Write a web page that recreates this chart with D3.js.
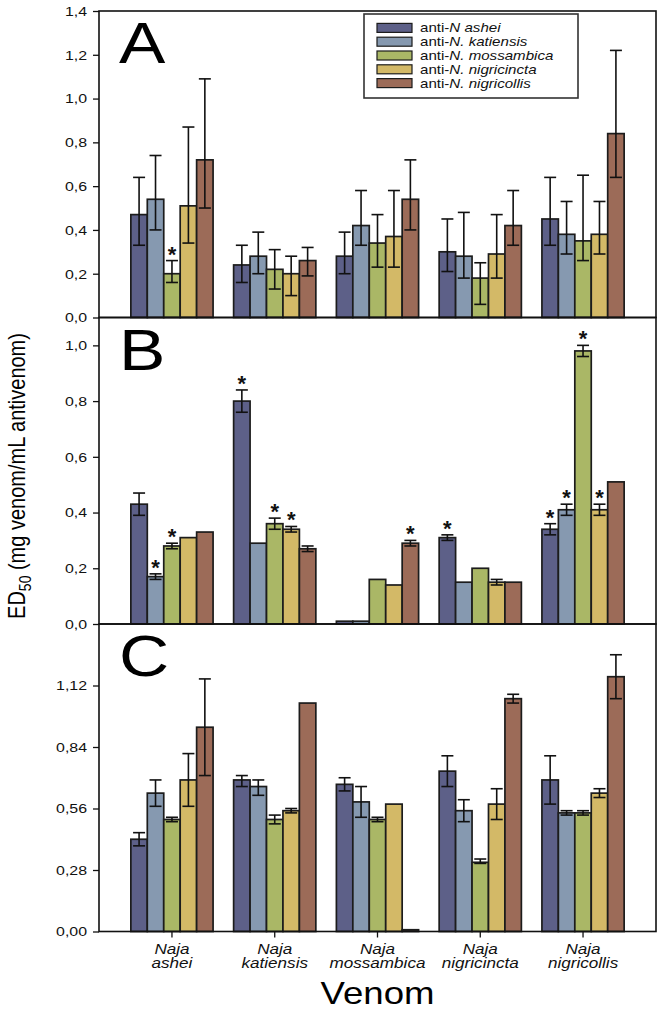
<!DOCTYPE html>
<html>
<head>
<meta charset="utf-8">
<script src="https://cdn.jsdelivr.net/npm/d3@7"></script>
<style>
  html, body { margin: 0; padding: 0; background: #fff; }
  svg { display: block; font-family: Arial, "Liberation Sans", sans-serif; }
</style>
</head>
<body>
<svg id="chart" width="660" height="1010"></svg>
<script>
// ---------- data ----------
const venoms = ["ashei", "katiensis", "mossambica", "nigricincta", "nigricollis"];
const antivenoms = ["anti-N ashei", "anti-N. katiensis", "anti-N. mossambica", "anti-N. nigricincta", "anti-N. nigricollis"];
const legendPrefix = ["anti-", "anti-", "anti-", "anti-", "anti-"];
const legendItalic = ["N ashei", "N. katiensis", "N. mossambica", "N. nigricincta", "N. nigricollis"];

// Panel A  (rows = venom, columns = antivenom)
const aMean = [[0.47,0.54,0.20,0.51,0.72],[0.24,0.28,0.22,0.20,0.26],[0.28,0.42,0.34,0.37,0.54],[0.30,0.28,0.18,0.29,0.42],[0.45,0.38,0.35,0.38,0.84]];
const aHigh = [[0.64,0.74,0.26,0.87,1.09],[0.33,0.39,0.31,0.28,0.32],[0.39,0.58,0.47,0.58,0.72],[0.45,0.48,0.25,0.47,0.58],[0.64,0.53,0.65,0.53,1.22]];
const aLow  = [[0.33,0.40,0.16,0.34,0.50],[0.16,0.20,0.13,0.10,0.19],[0.20,0.33,0.23,0.23,0.40],[0.21,0.18,0.06,0.18,0.33],[0.33,0.29,0.26,0.29,0.64]];
const aStar = [[0,0,1,0,0],[0,0,0,0,0],[0,0,0,0,0],[0,0,0,0,0],[0,0,0,0,0]];
const aTicks = [0,0.2,0.4,0.6,0.8,1.0,1.2,1.4];

// Panel B
const bMean = [[0.43,0.17,0.28,0.31,0.33],[0.80,0.29,0.36,0.34,0.27],[0.01,0.01,0.16,0.14,0.29],[0.31,0.15,0.20,0.15,0.15],[0.34,0.41,0.98,0.41,0.51]];
const bHigh = [[0.47,0.18,0.29,null,null],[0.84,null,0.38,0.35,0.28],[null,null,null,null,0.30],[0.32,null,null,0.16,null],[0.36,0.43,1.00,0.43,null]];
const bLow  = [[0.39,0.16,0.27,null,null],[0.76,null,0.34,0.33,0.26],[null,null,null,null,0.28],[0.30,null,null,0.14,null],[0.32,0.39,0.96,0.39,null]];
const bStar = [[0,1,1,0,0],[1,0,1,1,0],[0,0,0,0,1],[1,0,0,0,0],[1,1,1,1,0]];
const bTicks = [0,0.2,0.4,0.6,0.8,1.0];

// Panel C
const cMean = [[0.42,0.63,0.51,0.69,0.93],[0.69,0.66,0.51,0.55,1.04],[0.67,0.59,0.51,0.58,0.008],[0.73,0.55,0.315,0.58,1.06],[0.69,0.54,0.54,0.63,1.16]];
const cHigh = [[0.45,0.69,0.52,0.81,1.15],[0.71,0.69,0.53,0.56,null],[0.70,0.66,0.52,null,null],[0.80,0.60,0.33,0.65,1.08],[0.80,0.55,0.55,0.65,1.26]];
const cLow  = [[0.39,0.57,0.50,0.57,0.71],[0.66,0.62,0.49,0.54,null],[0.64,0.52,0.50,null,null],[0.66,0.50,0.31,0.51,1.04],[0.58,0.53,0.53,0.61,1.06]];
const cStar = [[0,0,0,0,0],[0,0,0,0,0],[0,0,0,0,0],[0,0,0,0,0],[0,0,0,0,0]];
const cTicks = [0,0.28,0.56,0.84,1.12];

// ---------- styles ----------
const colors = ["#5d6088", "#8699b0", "#aab766", "#d3b967", "#9c6b58"];
const SX = 1.18;               // horizontal stretch of the reference lettering
const left = 99, right = 656;
const panels = [
  {id:"A", mean:aMean, high:aHigh, low:aLow, star:aStar, ticks:aTicks, max:1.4, top:11, bottom:317.5, fmt:d3.format(".1f")},
  {id:"B", mean:bMean, high:bHigh, low:bLow, star:bStar, ticks:bTicks, max:1.1, top:317.5, bottom:624, fmt:d3.format(".1f")},
  {id:"C", mean:cMean, high:cHigh, low:cLow, star:cStar, ticks:cTicks, max:1.4, top:624, bottom:931.5, fmt:d3.format(".2f")}
];

const svg = d3.select("#chart");

const x0 = d3.scaleBand().domain(venoms).range([left, right]).paddingInner(0.2).paddingOuter(0.31);
const x1 = d3.scaleBand().domain(d3.range(antivenoms.length)).range([0, x0.bandwidth()]).padding(0);

panels.forEach(p => {
  const y = d3.scaleLinear().domain([0, p.max]).range([p.bottom, p.top]);
  const g = svg.append("g");

  venoms.forEach((v, vi) => {
    const gg = g.append("g").attr("transform", `translate(${x0(v)},0)`);
    const rows = p.mean[vi].map((m, ai) => ({ai, m, hi: p.high[vi][ai], lo: p.low[vi][ai], star: p.star[vi][ai]}));
    gg.selectAll("rect").data(rows).join("rect")
      .attr("x", d => x1(d.ai))
      .attr("y", d => y(d.m))
      .attr("width", x1.bandwidth())
      .attr("height", d => y(0) - y(d.m))
      .attr("fill", d => colors[d.ai])
      .attr("stroke", "#1c1c1c")
      .attr("stroke-width", 1.7);

    const cap = 6;
    rows.filter(d => d.hi != null).forEach(d => {
      const cx = x1(d.ai) + x1.bandwidth() / 2;
      gg.append("line").attr("x1", cx).attr("x2", cx).attr("y1", y(d.hi)).attr("y2", y(d.lo))
        .attr("stroke", "#111").attr("stroke-width", 1.6);
      [d.hi, d.lo].forEach(val => {
        gg.append("line").attr("x1", cx - cap).attr("x2", cx + cap).attr("y1", y(val)).attr("y2", y(val))
          .attr("stroke", "#111").attr("stroke-width", 1.6);
      });
    });

    rows.filter(d => d.star).forEach(d => {
      const cx = x1(d.ai) + x1.bandwidth() / 2;
      const topV = d.hi != null ? d.hi : d.m;
      gg.append("text").attr("x", cx).attr("y", y(topV) + 1)
        .attr("text-anchor", "middle").attr("font-size", 22).attr("font-weight", "bold")
        .attr("fill", "#111").text("*");
    });
  });

  const ax = g.append("g").attr("transform", `translate(${left},0)`)
    .call(d3.axisLeft(y).tickValues(p.ticks).tickSize(6).tickPadding(5).tickFormat(d => p.fmt(d).replace(".", ",")));
  ax.select(".domain").remove();
  ax.selectAll("line").attr("stroke", "#111").attr("stroke-width", 1.3);
  ax.selectAll("text").attr("font-size", 13.5).attr("fill", "#111")
    .attr("font-family", "Arial, 'Liberation Sans', sans-serif")
    .attr("x", -12 / SX).attr("transform", `scale(${SX},1)`);

  g.append("rect").attr("x", left).attr("y", p.top).attr("width", right - left).attr("height", p.bottom - p.top)
    .attr("fill", "none").attr("stroke", "#111").attr("stroke-width", 1.6);

  g.append("text").attr("transform", `translate(119,${p.top + 52}) scale(1.22,1)`)
    .attr("font-size", 57).attr("fill", "#000").text(p.id);
});

const xa = svg.append("g").attr("transform", `translate(0,${panels[2].bottom})`)
  .call(d3.axisBottom(x0).tickSize(6).tickFormat(""));
xa.select(".domain").remove();
xa.selectAll("line").attr("stroke", "#111").attr("stroke-width", 1.3);

venoms.forEach(v => {
  const cx = x0(v) + x0.bandwidth() / 2;
  const t = svg.append("text").attr("transform", `translate(${cx},0) scale(${SX},1)`).attr("text-anchor", "middle")
    .attr("font-size", 14.5).attr("font-style", "italic").attr("fill", "#111");
  t.append("tspan").attr("x", 0).attr("y", 954).text("Naja");
  t.append("tspan").attr("x", 0).attr("y", 968).text(v);
});

svg.append("text").attr("transform", `translate(${(left + right) / 2},1004) scale(${SX},1)`).attr("text-anchor", "middle")
  .attr("font-size", 31).attr("fill", "#000").text("Venom");

const yt = svg.append("text").attr("transform", `translate(25,476) rotate(-90) scale(1,${SX})`)
  .attr("text-anchor", "middle").attr("font-size", 20).attr("fill", "#000");
yt.append("tspan").text("ED");
yt.append("tspan").attr("font-size", 14).attr("dy", 5).text("50");
yt.append("tspan").attr("dy", -5).text(" (mg venom/mL antivenom)");

const lg = svg.append("g");
const lgX = 364, lgY = 14;
lg.append("rect").attr("x", lgX).attr("y", lgY).attr("width", 214).attr("height", 84)
  .attr("fill", "#fff").attr("stroke", "#333").attr("stroke-width", 1.6);
const rowY = d3.scaleBand().domain(d3.range(antivenoms.length)).range([lgY + 7, lgY + 76]);
antivenoms.forEach((a, i) => {
  const yy = rowY(i) + rowY.bandwidth() / 2;
  lg.append("rect").attr("x", lgX + 13).attr("y", yy - 4.5).attr("width", 35).attr("height", 9)
    .attr("fill", colors[i]).attr("stroke", "#1c1c1c").attr("stroke-width", 1.2);
  const t = lg.append("text").attr("transform", `translate(${lgX + 56},${yy + 4.5}) scale(${SX},1)`)
    .attr("font-size", 12.8).attr("fill", "#111");
  t.append("tspan").text(legendPrefix[i]);
  t.append("tspan").attr("font-style", "italic").text(legendItalic[i]);
});
</script>
</body>
</html>
